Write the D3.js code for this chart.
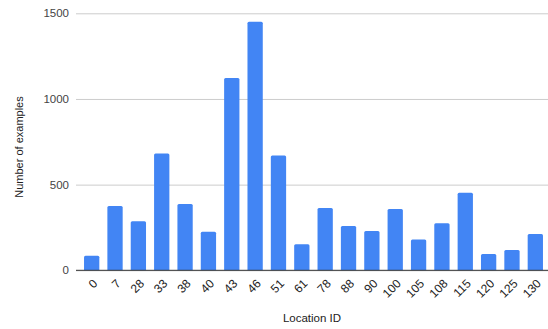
<!DOCTYPE html>
<html>
<head>
<meta charset="utf-8">
<script src="https://cdn.jsdelivr.net/npm/d3@7"></script>
<style>
  html, body { margin: 0; padding: 0; background: #fff; }
  svg { display: block; font-family: "Liberation Sans", Arial, sans-serif; }
</style>
</head>
<body>
<svg id="chart" width="548" height="329"></svg>
<script>
// Location IDs along the x axis and example counts per location
const locations = ["0", "7", "28", "33", "38", "40", "43", "46", "51", "61",
                   "78", "88", "90", "100", "105", "108", "115", "120", "125", "130"];
const counts = [85, 375, 287, 682, 387, 225, 1122, 1450, 670, 152,
                364, 258, 230, 358, 180, 275, 453, 95, 118, 212];
const yTicks = [0, 500, 1000, 1500];

const W = 548, H = 329;
const plot = { left: 76, right: 548, top: 13.3, bottom: 270.3 };

const svg = d3.select("#chart");

const x = d3.scaleBand()
  .domain(locations)
  .range([80, 547])
  .paddingInner(0.345)
  .paddingOuter(0.1725);

const y = d3.scaleLinear()
  .domain([0, 1500])
  .range([plot.bottom, plot.top]);

// Horizontal gridlines with tick labels
const yAxis = d3.axisLeft(y)
  .tickValues(yTicks)
  .tickSize(-(plot.right - plot.left))
  .tickPadding(7)
  .tickFormat(d3.format("d"));

const gy = svg.append("g")
  .attr("transform", `translate(${plot.left},0)`)
  .call(yAxis);
gy.select(".domain").remove();
gy.selectAll(".tick line").attr("stroke", "#cccccc").attr("stroke-width", 1);
gy.selectAll(".tick text")
  .attr("fill", "#444")
  .style("font-size", "11.5px")
  .style("font-family", "'Liberation Sans', Arial, sans-serif");

// Bars with slightly rounded tops
const r = 1.5;
svg.append("g").selectAll("path")
  .data(locations.map((loc, i) => ({ loc, v: counts[i] })))
  .join("path")
  .attr("fill", "#4285f4")
  .attr("d", d => {
    const x0 = x(d.loc), x1 = x0 + x.bandwidth();
    const yt = y(d.v), yb = y(0);
    return `M${x0},${yb}V${yt + r}Q${x0},${yt} ${x0 + r},${yt}H${x1 - r}Q${x1},${yt} ${x1},${yt + r}V${yb}Z`;
  });

// Baseline at zero
svg.append("line")
  .attr("x1", plot.left).attr("x2", plot.right)
  .attr("y1", y(0)).attr("y2", y(0))
  .attr("stroke", "#333").attr("stroke-width", 1);

// Slanted category labels
const xAxis = d3.axisBottom(x).tickSize(0).tickPadding(0);
const gx = svg.append("g")
  .attr("transform", `translate(0,${plot.bottom})`)
  .call(xAxis);
gx.select(".domain").remove();
gx.selectAll(".tick text")
  .attr("fill", "#222")
  .style("font-size", "12px")
  .style("font-family", "'Liberation Sans', Arial, sans-serif")
  .attr("text-anchor", "end")
  .attr("dy", "0")
  .attr("y", 0)
  .attr("transform", "translate(6.5,14) rotate(-45)");

// Axis titles
svg.append("text")
  .attr("x", (plot.left + plot.right) / 2)
  .attr("y", 322)
  .attr("text-anchor", "middle")
  .attr("fill", "#222")
  .style("font-size", "11.5px")
  .text("Location ID");

svg.append("text")
  .attr("transform", "translate(23,147) rotate(-90)")
  .attr("text-anchor", "middle")
  .attr("fill", "#222")
  .style("font-size", "11px")
  .text("Number of examples");
</script>
</body>
</html>
